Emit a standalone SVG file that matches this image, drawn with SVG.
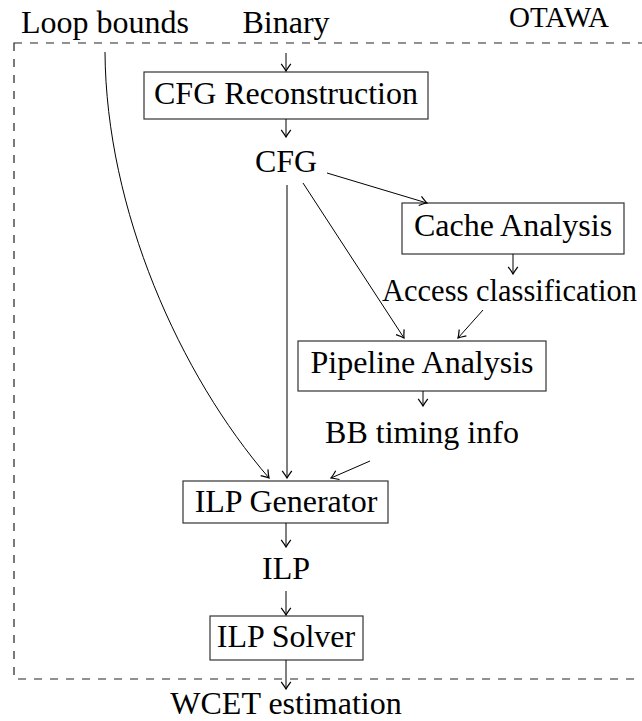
<svg xmlns="http://www.w3.org/2000/svg" width="642" height="721" viewBox="0 0 642 721">
<style>
text{font-family:"Liberation Serif","Times New Roman",serif;font-size:32px;fill:#000}
.c{text-anchor:middle}
.box{fill:#fff;stroke:#333;stroke-width:1.2}
.e{fill:none;stroke:#000;stroke-width:1;marker-end:url(#ah)}
.frame{fill:none;stroke:#222;stroke-width:1.2;stroke-dasharray:8 8}
</style>
<defs>
<marker id="ah" markerUnits="userSpaceOnUse" markerWidth="12" markerHeight="12" viewBox="-7 -5 8 10" refX="0" refY="0" orient="auto">
<path d="M-6,-4 Q-2,-1 0,0 Q-2,1 -6,4" fill="none" stroke="#000" stroke-width="1"/>
</marker>
</defs>
<rect class="frame" x="14" y="43" width="680" height="636"/>
<g id="otawa"><text x="559" y="27" class="c" style="font-size:29px">OTAWA</text></g>
<g id="loopbounds"><text x="105" y="33" class="c">Loop bounds</text></g>
<g id="binary"><text x="286" y="33" class="c">Binary</text></g>
<g id="cfgrecon"><rect class="box" x="144" y="72" width="284" height="47"/><text x="286" y="104" class="c">CFG Reconstruction</text></g>
<g id="cfg"><text x="286" y="172" class="c">CFG</text></g>
<g id="cache"><rect class="box" x="402" y="203" width="222" height="51"/><text x="513" y="236" class="c">Cache Analysis</text></g>
<g id="access"><text x="382" y="301" style="font-size:30.5px">Access classification</text></g>
<g id="pipeline"><rect class="box" x="298" y="341" width="248" height="50"/><text x="422" y="373" class="c">Pipeline Analysis</text></g>
<g id="bbtiming"><text x="422" y="443" class="c">BB timing info</text></g>
<g id="ilpgen"><rect class="box" x="183" y="481" width="205" height="42"/><text x="286" y="512" class="c">ILP Generator</text></g>
<g id="ilp"><text x="286" y="579" class="c">ILP</text></g>
<g id="ilpsolver"><rect class="box" x="210" y="616" width="153" height="44"/><text x="286" y="647" class="c">ILP Solver</text></g>
<g id="wcet"><text x="286" y="714" class="c">WCET estimation</text></g>
<g id="connectors">
<path class="e" d="M286,53 V71"/>
<path class="e" d="M286,119 V137"/>
<path class="e" d="M327,173 L427,203"/>
<path class="e" d="M303,183 L404,338"/>
<path class="e" d="M287,185 V478"/>
<path class="e" d="M513,254 V274"/>
<path class="e" d="M483,310 L458,338"/>
<path class="e" d="M423,391 V406"/>
<path class="e" d="M370,461 L331,478"/>
<path class="e" d="M105,52 C106,210 180,375 269,478"/>
<path class="e" d="M286,523 V547"/>
<path class="e" d="M286,591 V615"/>
<path class="e" d="M286,660 V689"/>
</g>
</svg>
